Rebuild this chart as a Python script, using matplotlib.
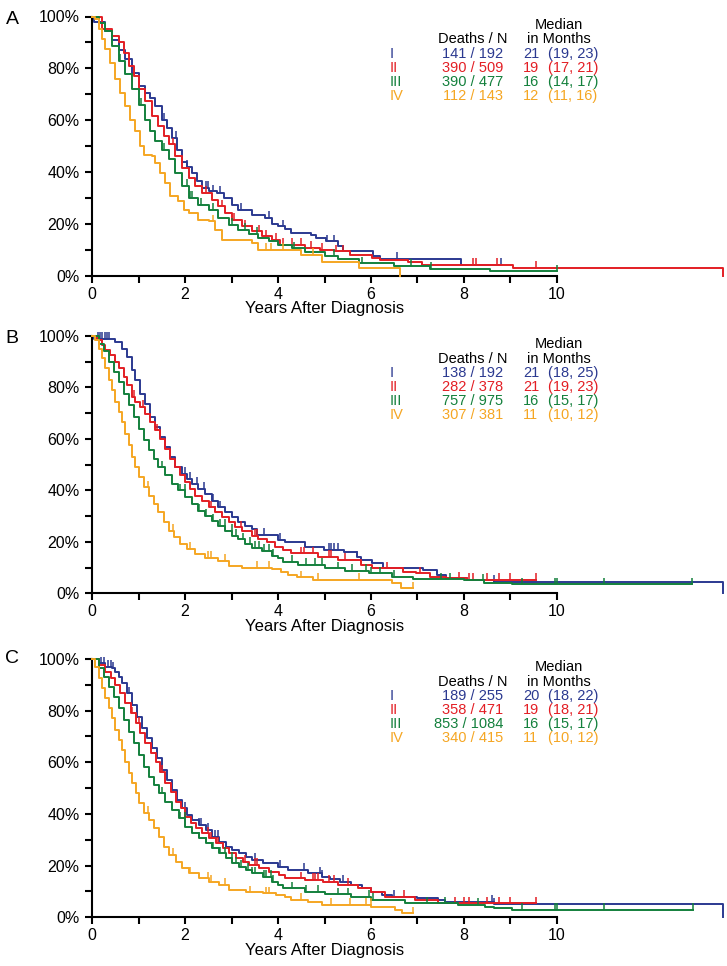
import numpy as np
import matplotlib.pyplot as plt

plt.rcParams['font.family'] = ['Liberation Sans', 'DejaVu Sans']

stages = ['I', 'II', 'III', 'IV']
colors = ['#2b3990', '#e31e24', '#13803c', '#f5a623']

# ---- panel A: (years, survival) knots, censor times ----
A_I = [(0, 1.0), (0.05, 0.98), (0.29, 0.945), (0.43, 0.91), (0.57, 0.87), (0.72, 0.835), (0.86, 0.78),
       (1.0, 0.73), (1.15, 0.705), (1.25, 0.686), (1.36, 0.654), (1.51, 0.60), (1.61, 0.57), (1.72, 0.53),
       (1.83, 0.486), (1.94, 0.44), (2.04, 0.42), (2.15, 0.396), (2.26, 0.364), (2.37, 0.338), (2.51, 0.325),
       (2.69, 0.319), (2.83, 0.30), (3.01, 0.274), (3.15, 0.254), (3.44, 0.235), (3.73, 0.222), (3.87, 0.20),
       (4.01, 0.19), (4.16, 0.18), (4.29, 0.166), (4.71, 0.158), (4.82, 0.145), (5.04, 0.132), (5.29, 0.112),
       (5.39, 0.093), (6.05, 0.077), (6.2, 0.065), (7.93, 0.041), (8.8, 0.041)]
A_I_cens = [1.55, 1.62, 1.8, 2.05, 2.45, 2.5, 2.6, 2.75, 3.2, 3.8, 4.1, 5.05, 5.2, 6.55, 8.8]
A_II = [(0, 1.0), (0.215, 0.95), (0.43, 0.925), (0.57, 0.90), (0.68, 0.86), (0.79, 0.81), (0.90, 0.77),
        (1.0, 0.72), (1.15, 0.674), (1.29, 0.615), (1.43, 0.577), (1.54, 0.538), (1.65, 0.506), (1.79, 0.46),
        (1.94, 0.415), (2.08, 0.377), (2.22, 0.345), (2.37, 0.319), (2.58, 0.293), (2.72, 0.267), (2.87, 0.241),
        (3.01, 0.215), (3.23, 0.19), (3.44, 0.17), (3.66, 0.151), (3.87, 0.138), (4.04, 0.119), (4.57, 0.106),
        (4.9, 0.099), (5.21, 0.093), (5.54, 0.08), (6.02, 0.067), (6.2, 0.061), (6.8, 0.053), (7.1, 0.041),
        (9.06, 0.03), (13.57, 0.0)]
A_II_cens = [1.75, 2.45, 2.8, 3.05, 3.3, 3.45, 3.6, 3.75, 3.95, 4.1, 4.3, 4.5, 4.7, 4.95, 5.25, 5.4,
             8.2, 8.25, 8.7, 9.55]
A_III = [(0, 1.0), (0.14, 0.975), (0.29, 0.945), (0.43, 0.886), (0.57, 0.83), (0.72, 0.777), (0.86, 0.72),
         (1.0, 0.66), (1.15, 0.60), (1.25, 0.557), (1.36, 0.519), (1.51, 0.486), (1.65, 0.448), (1.79, 0.396),
         (1.94, 0.345), (2.08, 0.30), (2.29, 0.274), (2.51, 0.254), (2.72, 0.222), (2.94, 0.196), (3.15, 0.177),
         (3.37, 0.161), (3.58, 0.145), (3.8, 0.132), (4.01, 0.119), (4.3, 0.105), (4.57, 0.09), (5.0, 0.075),
         (5.3, 0.065), (5.75, 0.047), (6.5, 0.036), (7.27, 0.026), (8.55, 0.016), (10.0, 0.016)]
A_III_cens = [0.6, 1.05, 1.55, 2.05, 2.1, 2.15, 2.35, 2.6, 3.0, 3.3, 3.55, 4.35, 5.2, 5.8, 6.85, 7.3, 10.0]
A_IV = [(0, 1.0), (0.07, 0.99), (0.14, 0.95), (0.215, 0.912), (0.29, 0.873), (0.39, 0.822), (0.5, 0.757),
        (0.61, 0.706), (0.72, 0.654), (0.82, 0.60), (0.93, 0.557), (1.04, 0.50), (1.11, 0.467), (1.29, 0.46),
        (1.36, 0.435), (1.47, 0.396), (1.58, 0.357), (1.68, 0.306), (1.86, 0.286), (1.97, 0.254), (2.08, 0.241),
        (2.29, 0.215), (2.51, 0.209), (2.65, 0.177), (2.8, 0.138), (3.44, 0.125), (3.58, 0.10), (4.5, 0.08),
        (4.95, 0.054), (5.75, 0.03), (6.63, 0.0)]
A_IV_cens = [1.97, 2.6, 3.75, 3.85, 4.1, 4.75]

# ---- panel B ----
B_I = [(0, 1.0), (0.05, 0.99), (0.5, 0.978), (0.65, 0.95), (0.75, 0.92), (0.86, 0.867), (0.93, 0.83),
       (1.04, 0.776), (1.15, 0.737), (1.25, 0.685), (1.36, 0.646), (1.47, 0.607), (1.58, 0.568), (1.68, 0.53),
       (1.79, 0.49), (1.94, 0.464), (2.04, 0.445), (2.15, 0.425), (2.29, 0.406), (2.44, 0.386), (2.58, 0.36),
       (2.72, 0.334), (2.87, 0.315), (3.01, 0.295), (3.15, 0.276), (3.3, 0.263), (3.44, 0.25), (3.55, 0.228),
       (4.0, 0.207), (4.14, 0.201), (4.58, 0.181), (4.98, 0.168), (5.41, 0.162), (5.7, 0.14), (5.78, 0.129),
       (6.03, 0.116), (6.25, 0.10), (7.12, 0.09), (7.41, 0.071), (7.62, 0.058), (8.06, 0.052), (8.64, 0.045),
       (13.57, 0.0)]
B_I_cens = [0.12, 0.17, 0.22, 0.27, 0.32, 0.37, 2.0, 2.1, 2.25, 2.4, 2.6, 2.75, 3.7, 4.05, 5.1, 5.15,
            5.2, 5.3, 5.7, 8.65]
B_II = [(0, 1.0), (0.11, 0.985), (0.215, 0.965), (0.29, 0.945), (0.39, 0.926), (0.5, 0.9), (0.57, 0.874),
        (0.68, 0.841), (0.75, 0.809), (0.86, 0.763), (0.93, 0.744), (1.04, 0.724), (1.15, 0.698), (1.25, 0.666),
        (1.36, 0.633), (1.47, 0.60), (1.58, 0.562), (1.68, 0.523), (1.79, 0.49), (1.9, 0.458), (2.01, 0.432),
        (2.11, 0.406), (2.22, 0.38), (2.37, 0.36), (2.51, 0.334), (2.65, 0.315), (2.8, 0.295), (2.94, 0.276),
        (3.08, 0.256), (3.23, 0.243), (3.44, 0.224), (3.58, 0.21), (3.76, 0.198), (3.94, 0.18), (4.1, 0.168),
        (4.29, 0.155), (4.87, 0.142), (5.3, 0.129), (5.78, 0.11), (6.03, 0.097), (6.68, 0.084), (6.97, 0.077),
        (7.26, 0.065), (7.62, 0.058), (8.06, 0.052), (9.54, 0.052)]
B_II_cens = [0.5, 0.9, 1.1, 1.4, 2.55, 2.65, 3.2, 3.5, 3.55, 4.5, 4.55, 4.75, 5.1, 5.15, 5.45, 6.35, 7.05,
             7.9, 8.1, 8.2, 8.5, 8.75, 9.0, 9.54]
B_III = [(0, 1.0), (0.14, 0.97), (0.25, 0.94), (0.36, 0.9), (0.47, 0.86), (0.57, 0.822), (0.68, 0.776),
         (0.79, 0.731), (0.9, 0.685), (1.0, 0.64), (1.11, 0.594), (1.22, 0.555), (1.33, 0.523), (1.43, 0.49),
         (1.58, 0.458), (1.72, 0.425), (1.86, 0.40), (2.01, 0.373), (2.15, 0.347), (2.29, 0.321), (2.44, 0.302),
         (2.58, 0.282), (2.72, 0.263), (2.87, 0.243), (3.01, 0.224), (3.15, 0.21), (3.3, 0.191), (3.44, 0.178),
         (3.66, 0.165), (3.87, 0.146), (4.0, 0.136), (4.1, 0.123), (4.43, 0.11), (5.01, 0.097), (5.45, 0.088),
         (5.96, 0.077), (6.46, 0.065), (6.9, 0.054), (8.0, 0.05), (8.43, 0.04), (9.04, 0.035), (12.9, 0.035)]
B_III_cens = [1.5, 1.9, 2.0, 2.3, 2.45, 2.6, 2.75, 2.85, 3.0, 3.1, 3.25, 3.4, 3.5, 3.6, 3.7, 3.8, 3.9, 4.3,
              4.6, 4.8, 4.95, 5.3, 5.6, 5.9, 6.0, 6.2, 6.5, 7.5, 7.7, 8.4, 9.25, 9.96, 10.0, 11.0, 12.9]
B_IV = [(0, 1.0), (0.07, 0.984), (0.14, 0.95), (0.215, 0.913), (0.29, 0.874), (0.36, 0.828), (0.43, 0.789),
        (0.5, 0.744), (0.57, 0.705), (0.65, 0.666), (0.72, 0.62), (0.79, 0.575), (0.86, 0.53), (0.93, 0.49),
        (1.0, 0.451), (1.11, 0.412), (1.22, 0.38), (1.33, 0.347), (1.43, 0.315), (1.54, 0.276), (1.65, 0.243),
        (1.76, 0.217), (1.9, 0.191), (2.04, 0.172), (2.22, 0.152), (2.44, 0.139), (2.72, 0.126), (2.94, 0.107),
        (3.23, 0.10), (3.87, 0.094), (4.07, 0.084), (4.22, 0.071), (4.4, 0.062), (4.76, 0.052), (6.46, 0.039),
        (6.65, 0.019), (6.9, 0.019)]
B_IV_cens = [1.2, 1.75, 2.1, 2.5, 2.55, 2.85, 3.55, 3.8, 4.5, 4.85, 5.75, 6.9]

# ---- panel C ----
C_I = [(0, 1.0), (0.14, 0.983), (0.29, 0.97), (0.43, 0.964), (0.5, 0.95), (0.58, 0.93), (0.65, 0.906),
       (0.76, 0.867), (0.86, 0.822), (0.97, 0.777), (1.08, 0.732), (1.19, 0.693), (1.29, 0.654), (1.4, 0.615),
       (1.51, 0.57), (1.62, 0.532), (1.73, 0.493), (1.83, 0.454), (1.94, 0.422), (2.05, 0.396), (2.16, 0.377),
       (2.3, 0.357), (2.45, 0.338), (2.59, 0.312), (2.73, 0.293), (2.88, 0.274), (3.02, 0.261), (3.17, 0.248),
       (3.31, 0.235), (3.45, 0.222), (3.67, 0.209), (4.0, 0.196), (4.22, 0.183), (4.65, 0.17), (4.94, 0.157),
       (5.12, 0.15), (5.33, 0.138), (5.58, 0.125), (5.8, 0.112), (6.01, 0.099), (6.23, 0.086), (6.45, 0.08),
       (7.0, 0.074), (7.45, 0.067), (7.6, 0.06), (8.64, 0.05), (13.57, 0.0)]
C_I_cens = [0.2, 0.25, 0.35, 0.4, 0.45, 0.8, 2.0, 2.3, 2.35, 2.5, 2.65, 2.7, 3.5, 4.05, 4.55, 4.9, 4.95,
            5.4, 6.5, 8.6, 8.65]
C_II = [(0, 1.0), (0.14, 0.977), (0.29, 0.951), (0.4, 0.925), (0.5, 0.9), (0.61, 0.867), (0.72, 0.828),
        (0.83, 0.79), (0.94, 0.751), (1.04, 0.712), (1.15, 0.674), (1.26, 0.635), (1.37, 0.603), (1.47, 0.564),
        (1.58, 0.519), (1.69, 0.486), (1.8, 0.448), (1.91, 0.422), (2.01, 0.39), (2.12, 0.364), (2.23, 0.345),
        (2.37, 0.325), (2.52, 0.306), (2.66, 0.286), (2.81, 0.267), (2.95, 0.248), (3.09, 0.228), (3.24, 0.215),
        (3.38, 0.203), (3.6, 0.19), (3.81, 0.177), (4.03, 0.164), (4.14, 0.151), (4.58, 0.144), (4.97, 0.137),
        (5.3, 0.125), (5.73, 0.112), (6.01, 0.099), (6.3, 0.08), (6.95, 0.067), (7.45, 0.054), (9.54, 0.054)]
C_II_cens = [0.5, 0.85, 1.0, 1.5, 2.5, 2.55, 2.7, 3.3, 3.5, 3.55, 4.5, 4.75, 4.8, 4.85, 5.1, 5.2, 5.5,
             6.7, 7.8, 8.0, 8.1, 8.5, 8.75, 9.0, 9.54]
C_III = [(0, 1.0), (0.14, 0.964), (0.25, 0.932), (0.36, 0.893), (0.47, 0.854), (0.58, 0.809), (0.68, 0.764),
         (0.79, 0.719), (0.9, 0.674), (1.01, 0.628), (1.12, 0.583), (1.22, 0.545), (1.33, 0.512), (1.44, 0.48),
         (1.58, 0.448), (1.73, 0.415), (1.87, 0.383), (2.01, 0.351), (2.16, 0.325), (2.3, 0.306), (2.45, 0.286),
         (2.59, 0.267), (2.73, 0.248), (2.88, 0.228), (3.02, 0.209), (3.17, 0.196), (3.31, 0.183), (3.45, 0.17),
         (3.67, 0.157), (3.88, 0.138), (4.0, 0.125), (4.1, 0.112), (4.58, 0.099), (5.0, 0.089), (5.58, 0.08),
         (6.01, 0.067), (6.73, 0.054), (7.88, 0.048), (8.46, 0.041), (8.64, 0.035), (9.04, 0.028), (12.93, 0.028)]
C_III_cens = [1.5, 1.9, 2.0, 2.3, 2.45, 2.6, 2.75, 2.85, 3.0, 3.1, 3.2, 3.35, 3.45, 3.5, 3.7, 3.75, 3.85,
              3.9, 4.3, 4.6, 4.85, 5.3, 5.5, 5.95, 6.05, 7.2, 7.6, 8.3, 9.25, 9.96, 10.0, 11.0, 12.93]
C_IV = [(0, 1.0), (0.07, 0.97), (0.14, 0.925), (0.22, 0.886), (0.29, 0.848), (0.36, 0.809), (0.43, 0.77),
        (0.5, 0.725), (0.58, 0.686), (0.65, 0.648), (0.72, 0.603), (0.79, 0.557), (0.86, 0.519), (0.94, 0.48),
        (1.01, 0.441), (1.12, 0.403), (1.22, 0.377), (1.33, 0.345), (1.44, 0.312), (1.55, 0.274), (1.65, 0.241),
        (1.8, 0.215), (1.94, 0.19), (2.09, 0.17), (2.3, 0.151), (2.52, 0.138), (2.73, 0.125), (2.95, 0.106),
        (3.31, 0.097), (3.67, 0.093), (3.96, 0.086), (4.14, 0.08), (4.29, 0.067), (4.65, 0.06), (4.94, 0.048),
        (6.01, 0.041), (6.52, 0.028), (6.66, 0.015), (6.91, 0.015)]
C_IV_cens = [1.2, 1.75, 2.1, 2.5, 2.55, 2.85, 3.4, 3.75, 3.8, 4.5, 5.15, 5.55, 5.9, 6.0, 6.91]

# ---- table text ----
A_deaths = ['141 / 192', '390 / 509', '390 / 477', '112 / 143']
A_median = ['21', '19', '16', '12']
A_ci = ['(19, 23)', '(17, 21)', '(14, 17)', '(11, 16)']
B_deaths = ['138 / 192', '282 / 378', '757 / 975', '307 / 381']
B_median = ['21', '21', '16', '11']
B_ci = ['(18, 25)', '(19, 23)', '(15, 17)', '(10, 12)']
C_deaths = ['189 / 255', '358 / 471', '853 / 1084', '340 / 415']
C_median = ['20', '19', '16', '11']
C_ci = ['(18, 22)', '(18, 21)', '(15, 17)', '(10, 12)']

panels = [
    ('A', [A_I, A_II, A_III, A_IV], [A_I_cens, A_II_cens, A_III_cens, A_IV_cens], A_deaths, A_median, A_ci),
    ('B', [B_I, B_II, B_III, B_IV], [B_I_cens, B_II_cens, B_III_cens, B_IV_cens], B_deaths, B_median, B_ci),
    ('C', [C_I, C_II, C_III, C_IV], [C_I_cens, C_II_cens, C_III_cens, C_IV_cens], C_deaths, C_median, C_ci),
]

W, H = 727, 966
fig = plt.figure(figsize=(W / 100, H / 100), dpi=100)

x0 = 92           # pixel of year 0
px_year = 46.5    # pixels per year
xmax = (W - x0) / px_year
axes_px = [(16.5, 275.5), (336, 593.3), (659, 917.3)]  # (top, bottom) pixel rows of 100% and 0%
letter_y = [19, 338.5, 658.5]


def surv_at(curve, t):
    times = [p[0] for p in curve]
    i = np.searchsorted(times, t, side='right') - 1
    return curve[max(i, 0)][1]


for k, (letter, curves, cens, deaths, median, ci) in enumerate(panels):
    top, bot = axes_px[k]
    ax = fig.add_axes([x0 / W, 1 - bot / H, (W - x0) / W, (bot - top) / H])
    ax.set_xlim(0, xmax)
    ax.set_ylim(0, 1)

    for curve, cs, col in zip(curves, cens, colors):
        t = [p[0] for p in curve]
        s = [p[1] for p in curve]
        ax.step(t, s, where='post', color=col, lw=1.4, clip_on=False, zorder=3)
        cy = [surv_at(curve, c) for c in cs]
        ax.vlines(cs, cy, np.array(cy) + 0.026, color=col, lw=1.1, clip_on=False, zorder=3)

    for sp in ['top', 'right']:
        ax.spines[sp].set_visible(False)
    ax.spines['bottom'].set_bounds(0, 10)
    for sp in ['left', 'bottom']:
        ax.spines[sp].set_linewidth(1.5)

    ax.set_xticks(range(0, 11, 2))
    ax.set_xticks(range(1, 10, 2), minor=True)
    ax.set_yticks(np.arange(0, 1.01, 0.2))
    ax.set_yticks(np.arange(0.1, 1.0, 0.2), minor=True)
    ax.set_yticklabels(['0%', '20%', '40%', '60%', '80%', '100%'])
    ax.tick_params(which='both', direction='out', length=5, width=1.5, labelsize=11.5)
    ax.tick_params(axis='x', pad=3)
    ax.tick_params(axis='y', pad=4)

    ax.text(5, -0.128, 'Years After Diagnosis', transform=ax.get_xaxis_transform(),
            ha='center', va='center', fontsize=12)

    fs = 10.5
    ax.text(10.04, 0.969, 'Median', ha='center', va='center', fontsize=fs)
    ax.text(8.18, 0.912, 'Deaths / N', ha='center', va='center', fontsize=fs)
    ax.text(10.04, 0.912, 'in Months', ha='center', va='center', fontsize=fs)
    rows_y = [0.856, 0.802, 0.748, 0.693]
    for i in range(4):
        ax.text(6.39, rows_y[i], stages[i], color=colors[i], ha='left', va='center', fontsize=fs)
        ax.text(8.84, rows_y[i], deaths[i], color=colors[i], ha='right', va='center', fontsize=fs)
        ax.text(9.27, rows_y[i], median[i], color=colors[i], ha='left', va='center', fontsize=fs)
        ax.text(9.81, rows_y[i], ci[i], color=colors[i], ha='left', va='center', fontsize=fs)

    fig.text(12 / W, 1 - letter_y[k] / H, letter, ha='center', va='center', fontsize=14)

fig.savefig('out.png', dpi=100)
